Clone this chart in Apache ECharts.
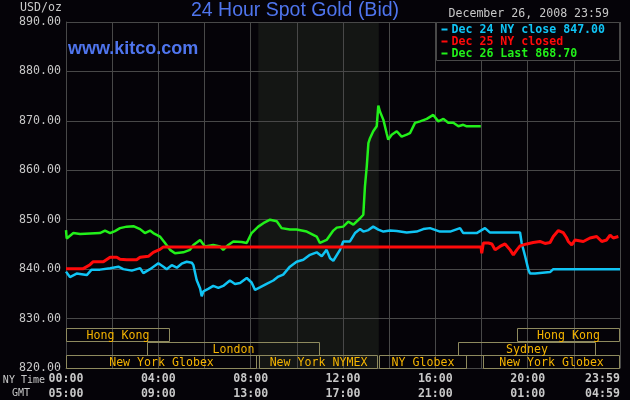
<!DOCTYPE html>
<html><head><meta charset="utf-8">
<script src="https://cdn.jsdelivr.net/npm/echarts@6/dist/echarts.min.js"></script>
<style>html,body{margin:0;padding:0;background:#050308;}#c{width:630px;height:400px;}</style>
</head><body><div id="c"></div>
<script>
// ---- data (hour of NY day, price USD/oz) ----
const dec24 = [[0,839.5],[0.17,838.4],[0.46,839.1],[0.9,838.8],[1.11,839.9],[1.47,839.9],[1.91,840.2],[2.27,840.5],[2.48,840.0],[2.85,839.7],[3.21,840.2],[3.35,839.2],[3.64,840.0],[4.0,841.2],[4.22,840.5],[4.36,840.0],[4.58,840.8],[4.8,840.3],[5.01,841.1],[5.23,841.5],[5.45,841.3],[5.52,840.8],[5.66,837.8],[5.81,836.1],[5.88,834.5],[5.95,835.5],[6.16,836.0],[6.38,836.6],[6.6,836.2],[6.81,836.6],[7.1,837.7],[7.32,837.0],[7.54,837.2],[7.83,838.2],[8.04,837.3],[8.19,835.8],[8.4,836.3],[8.69,837.0],[8.98,837.7],[9.2,838.5],[9.41,838.9],[9.7,840.5],[9.99,841.5],[10.28,841.9],[10.57,842.9],[10.86,843.4],[11.08,842.6],[11.29,843.9],[11.44,842.2],[11.58,841.7],[11.87,843.9],[12.01,845.6],[12.3,845.6],[12.52,847.3],[12.74,848.1],[12.88,847.6],[13.1,847.9],[13.31,848.6],[13.53,848.0],[13.75,847.6],[14.04,847.8],[14.33,847.7],[14.76,847.4],[15.19,847.6],[15.48,848.1],[15.77,848.3],[16.2,847.6],[16.64,847.6],[17.07,848.3],[17.21,847.3],[17.79,847.3],[18.15,848.3],[18.37,847.4],[19.67,847.4],[19.74,845.3],[19.89,842.6],[20.03,839.9],[20.1,839.1],[20.32,839.1],[20.39,839.4],[20.97,839.4],[21.11,840.0],[24,840.0]];
const dec25 = [[0,840.1],[0.75,840.1],[1.04,840.9],[1.18,841.5],[1.62,841.5],[1.91,842.4],[2.2,842.4],[2.34,842.0],[2.63,841.9],[3.06,841.9],[3.21,842.4],[3.57,842.6],[3.78,843.4],[4.07,844.0],[4.22,844.5],[17.98,844.5],[18.01,843.2],[18.08,845.3],[18.3,845.3],[18.45,845.1],[18.59,843.9],[18.8,844.6],[19.02,845.1],[19.24,843.9],[19.38,842.9],[19.53,843.9],[19.67,844.7],[19.96,845.1],[20.24,845.4],[20.53,845.6],[20.75,845.2],[20.97,845.4],[21.11,846.6],[21.33,847.8],[21.54,847.4],[21.68,846.4],[21.76,845.6],[21.91,844.9],[22.05,845.9],[22.41,845.6],[22.7,846.3],[22.99,846.6],[23.21,845.6],[23.42,845.9],[23.57,846.9],[23.71,846.3],[23.93,846.6]];
const dec26 = [[0,847.9],[0.03,846.2],[0.32,847.3],[0.61,847.1],[1.04,847.2],[1.47,847.3],[1.69,847.8],[1.91,847.3],[2.12,847.7],[2.34,848.3],[2.63,848.6],[2.92,848.7],[3.21,848.1],[3.42,847.3],[3.64,847.8],[3.78,847.3],[4.07,846.6],[4.29,845.3],[4.51,843.9],[4.72,843.2],[5.08,843.4],[5.37,843.9],[5.52,844.9],[5.81,845.9],[6.02,844.6],[6.38,844.9],[6.67,844.6],[6.81,843.9],[7.03,844.9],[7.25,845.6],[7.61,845.5],[7.83,845.3],[8.04,847.3],[8.11,846.9],[8.33,848.6],[8.55,849.3],[8.84,850.0],[9.13,849.7],[9.34,848.3],[9.7,848.0],[9.99,848.0],[10.43,847.6],[10.86,846.6],[11.0,845.3],[11.29,845.9],[11.58,847.8],[11.73,848.4],[12.01,848.6],[12.23,849.6],[12.45,849.0],[12.74,850.3],[12.88,851.0],[12.95,856.7],[13.03,860.8],[13.1,865.5],[13.17,866.5],[13.31,867.9],[13.46,868.9],[13.53,873.1],[13.6,871.9],[13.75,870.2],[13.89,867.5],[13.96,866.2],[14.11,867.2],[14.33,867.9],[14.54,866.8],[14.76,867.2],[14.9,867.5],[15.12,869.6],[15.34,869.9],[15.63,870.4],[15.91,871.2],[16.13,869.9],[16.35,870.4],[16.56,869.6],[16.78,869.6],[17.0,868.9],[17.21,869.2],[17.36,868.9],[17.97,868.9]];
const seriesLabels = ['Dec 24 NY close 847.00','Dec 25 NY closed','Dec 26 Last 868.70'];
const titleText = '24 Hour Spot Gold (Bid)';
const dateText = 'December 26, 2008 23:59';
const unitText = 'USD/oz';
const siteText = 'www.kitco.com';
// market sessions (NY hours), row 0 = bottom
const sessionNames = ['Hong Kong','London','New York Globex','New York NYMEX','NY Globex','New York Globex','Sydney','Hong Kong'];
const sessionStart = [0,3.5,0,8.36,13.56,18.05,17.0,19.53];
const sessionEnd   = [4.5,11.0,8.29,13.5,17.36,24,22.95,24];
const sessionRow   = [2,1,0,0,0,0,1,2];
const nymexShade = [8.33, 13.55];
const gmtOffset = 5;

// ---- styles ----
const BG = '#050308', GRID = '#484848', TXT = '#c8c8c8';
const COLORS = ['#10c4f4', '#ff0a0a', '#22f01a'];
const MONO = '"DejaVu Sans Mono", monospace';

function hh(h){ h = ((h % 24) + 24) % 24; return String(h).padStart(2,'0') + ':00'; }

const chart = echarts.init(document.getElementById('c'), null, {renderer:'canvas'});
const sessionData = sessionNames.map((n,i)=>[sessionStart[i], sessionEnd[i], sessionRow[i]]);

chart.setOption({
  backgroundColor: BG,
  animation: false,
  grid: {left: 66, right: 10, top: 22, bottom: 32},
  xAxis: {
    type: 'value', min: 0, max: 24, interval: 2, z: 1,
    axisLine: {show: true, lineStyle: {color: GRID}},
    axisTick: {show: false},
    splitLine: {show: true, lineStyle: {color: GRID, width: 1}},
    axisLabel: {
      margin: 3, alignMaxLabel: 'right', showMaxLabel: true,
      formatter: function(v){
        if (v % 4 !== 0) return '';
        if (v === 24) return '{a|23:59}\n{b|' + hh(23 + gmtOffset).slice(0,3) + '59}';
        return '{a|' + hh(v) + '}\n{b|' + hh(v + gmtOffset) + '}';
      },
      rich: {
        a: {fontFamily: MONO, fontSize: 11.6, fontWeight: 'bold', color: TXT, lineHeight: 15},
        b: {fontFamily: MONO, fontSize: 11.6, fontWeight: 'bold', color: TXT, lineHeight: 15}
      }
    }
  },
  yAxis: {
    type: 'value', min: 820, max: 890, interval: 10, z: 1,
    axisLine: {show: true, lineStyle: {color: GRID}},
    axisTick: {show: false},
    splitLine: {show: true, lineStyle: {color: GRID, width: 1}},
    axisLabel: {margin: 5, color: TXT, fontFamily: MONO, fontSize: 11.6, formatter: v => v.toFixed(2)}
  },
  series: [
    {
      type: 'custom', z: 0, silent: true,
      data: [nymexShade],
      encode: {x: [0,1]},
      renderItem: function(params, api){
        const a = api.coord([api.value(0), 890]);
        const b = api.coord([api.value(1), 820]);
        return {type:'rect', shape:{x:a[0], y:a[1], width:b[0]-a[0], height:b[1]-a[1]}, style:{fill:'#141614'}};
      }
    },
    {name: seriesLabels[0], type:'line', data: dec24, showSymbol:false, z:3, lineStyle:{color:COLORS[0], width:2.5}, itemStyle:{color:COLORS[0]}},
    {name: seriesLabels[2], type:'line', data: dec26, showSymbol:false, z:3, lineStyle:{color:COLORS[2], width:2.5}, itemStyle:{color:COLORS[2]}},
    {name: seriesLabels[1], type:'line', data: dec25, showSymbol:false, z:4, lineStyle:{color:COLORS[1], width:3}, itemStyle:{color:COLORS[1]}},
    {
      type: 'custom', z: 5, silent: true,
      data: sessionData,
      encode: {x: [0,1]},
      renderItem: function(params, api){
        const i = params.dataIndex;
        const s = api.coord([api.value(0), 820]);
        const e = api.coord([api.value(1), 820]);
        const rowH = 13.2;
        const row = api.value(2);
        const y0 = Math.round(s[1] - (row + 1) * rowH) + 0.5;
        const x0 = Math.round(s[0]) + 0.5;
        const x1 = Math.round(e[0]) - 0.5;
        return {type:'group', children:[
          {type:'rect', shape:{x:x0, y:y0, width:x1-x0, height:Math.round(rowH)}, style:{fill:'none', stroke:'#8e8a5e', lineWidth:1}},
          {type:'text', style:{text: sessionNames[i], x:(x0+x1)/2, y:y0+rowH/2+1, align:'center', verticalAlign:'middle', fill:'#f5b400', font:'11.6px ' + MONO}}
        ]};
      }
    }
  ],
  graphic: [
    {type:'text', z:10, style:{text: titleText, x:295, y:11, align:'center', verticalAlign:'middle', fill:'#4f75ee', font:'19.5px "Liberation Sans", Arial, sans-serif'}},
    {type:'text', z:10, style:{text: siteText, x:68, y:49, align:'left', verticalAlign:'middle', fill:'#4f75ee', font:'bold 18px "Liberation Sans", Arial, sans-serif'}},
    {type:'text', z:10, style:{text: unitText, x:62, y:8, align:'right', verticalAlign:'middle', fill:TXT, font:'11.6px ' + MONO}},
    {type:'text', z:10, style:{text: dateText, x:609, y:14, align:'right', verticalAlign:'middle', fill:TXT, font:'11.6px ' + MONO}},
    {type:'text', z:10, style:{text: 'NY Time', x:45, y:380, align:'right', verticalAlign:'middle', fill:TXT, font:'10px ' + MONO}},
    {type:'text', z:10, style:{text: 'GMT', x:30, y:393, align:'right', verticalAlign:'middle', fill:TXT, font:'10px ' + MONO}},
    {type:'rect', z:10, shape:{x:436.5, y:22.5, width:183, height:38}, style:{fill:BG, stroke:GRID, lineWidth:1}},
    ...seriesLabels.map((t,i)=>({type:'rect', z:11, shape:{x:441.5, y:28.5 + i*12, width:6, height:2}, style:{fill:COLORS[i]}})),
    ...seriesLabels.map((t,i)=>({type:'text', z:11, style:{text:t, x:451.5, y:29.5 + i*12, align:'left', verticalAlign:'middle', fill:COLORS[i], font:'bold 11.6px ' + MONO}}))
  ]
});
</script></body></html>
